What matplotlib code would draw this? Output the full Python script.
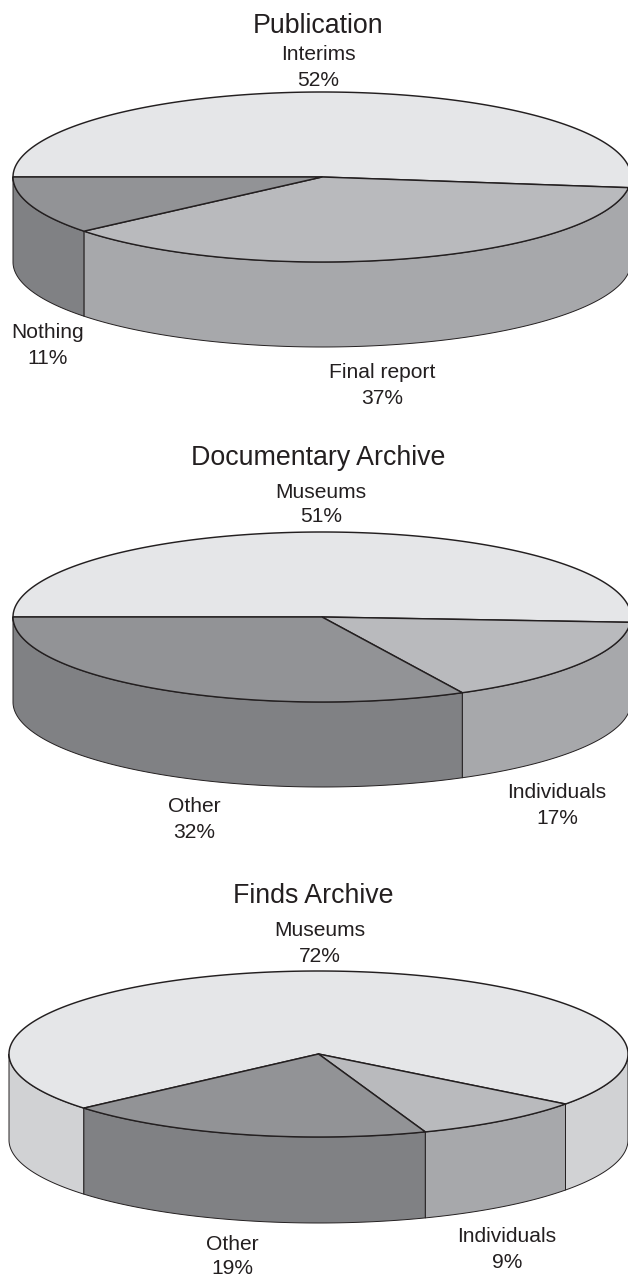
import numpy as np
import matplotlib
matplotlib.use("Agg")
import matplotlib.pyplot as plt
from matplotlib.patches import Polygon

W, H = 628, 1276
INK = "#231f20"
FONT = "Liberation Sans"

# --- data ---
titles = ["Publication", "Documentary Archive", "Finds Archive"]

pub_names = ["Interims", "Final report", "Nothing"]
pub_shares = [52, 37, 11]
pub_labels = ["52%", "37%", "11%"]

doc_names = ["Museums", "Individuals", "Other"]
doc_shares = [51, 16.5, 32.5]
doc_labels = ["51%", "17%", "32%"]

finds_names = ["Museums", "Individuals", "Other"]
finds_shares = [71.6, 9.1, 19.3]
finds_labels = ["72%", "9%", "19%"]

# --- styling / layout ---
TOP_LIGHT, SIDE_LIGHT = "#e5e6e8", "#d1d2d4"
TOP_MID, SIDE_MID = "#b9babd", "#a7a8ab"
TOP_DARK, SIDE_DARK = "#929396", "#808184"
colours = [(TOP_LIGHT, SIDE_LIGHT), (TOP_MID, SIDE_MID), (TOP_DARK, SIDE_DARK)]

pies = [
    dict(shares=pub_shares, cx=322, cy=177, rx=309, ry=85, depth=85, start=180,
         title=(318, 26),
         pos=[(318, 55, 81), (382, 372, 398), (48, 333, 358)],
         names=pub_names, labels=pub_labels, title_text=titles[0]),
    dict(shares=doc_shares, cx=322, cy=617, rx=309, ry=85, depth=85, start=180,
         title=(318, 458),
         pos=[(321, 492, 517), (557, 793, 819), (194, 807, 832)],
         names=doc_names, labels=doc_labels, title_text=titles[1]),
    dict(shares=finds_shares, cx=318.5, cy=1054, rx=309.5, ry=83, depth=86, start=220.7,
         title=(313, 896),
         pos=[(320, 931, 957), (507, 1236, 1262), (232, 1245, 1269)],
         names=finds_names, labels=finds_labels, title_text=titles[2]),
]

fig = plt.figure(figsize=(W / 100, H / 100), dpi=100, facecolor="white")
ax = fig.add_axes([0, 0, 1, 1])
ax.set_xlim(0, W)
ax.set_ylim(H, 0)
ax.axis("off")


def arc(p, a0, a1):
    t = np.radians(np.linspace(a0, a1, max(int(abs(a1 - a0) * 2), 2)))
    return p["cx"] + p["rx"] * np.cos(t), p["cy"] - p["ry"] * np.sin(t)


for p in pies:
    sweeps = np.array(p["shares"], dtype=float) / sum(p["shares"]) * 360
    ends = p["start"] - np.cumsum(sweeps)
    starts = np.concatenate([[p["start"]], ends[:-1]])
    d = p["depth"]

    # side walls: only the part of each slice on the front half of the disc
    for (a0, a1), (_, side) in zip(zip(starts, ends), colours):
        for k in (0, -360):
            lo = min(a0 + k, 360)
            hi = a1 + k
            b0, b1 = min(lo, 0), max(hi, -180)
            if b0 <= b1:
                continue
            x, y = arc(p, b0, b1)
            verts = np.column_stack([np.r_[x, x[::-1]], np.r_[y, y[::-1] + d]])
            ax.add_patch(Polygon(verts, closed=True, facecolor=side,
                                 edgecolor=INK, linewidth=0.7, zorder=2,
                                 joinstyle="round"))

    # top faces
    for (a0, a1), (top, _) in zip(zip(starts, ends), colours):
        x, y = arc(p, a0, a1)
        verts = np.column_stack([np.r_[p["cx"], x], np.r_[p["cy"], y]])
        ax.add_patch(Polygon(verts, closed=True, facecolor=top, edgecolor=INK,
                             linewidth=1.05, zorder=3, joinstyle="round"))

    # text
    ax.text(*p["title"], p["title_text"], ha="center", va="center", fontsize=19.3,
            family=FONT, color=INK, zorder=5)
    for (tx, y1, y2), nm, lb in zip(p["pos"], p["names"], p["labels"]):
        ax.text(tx, y1, nm, ha="center", va="center", fontsize=15.1, family=FONT,
                color=INK, zorder=5)
        ax.text(tx, y2, lb, ha="center", va="center", fontsize=15.1, family=FONT,
                color=INK, zorder=5)

fig.savefig("out.png", dpi=100, facecolor="white")
